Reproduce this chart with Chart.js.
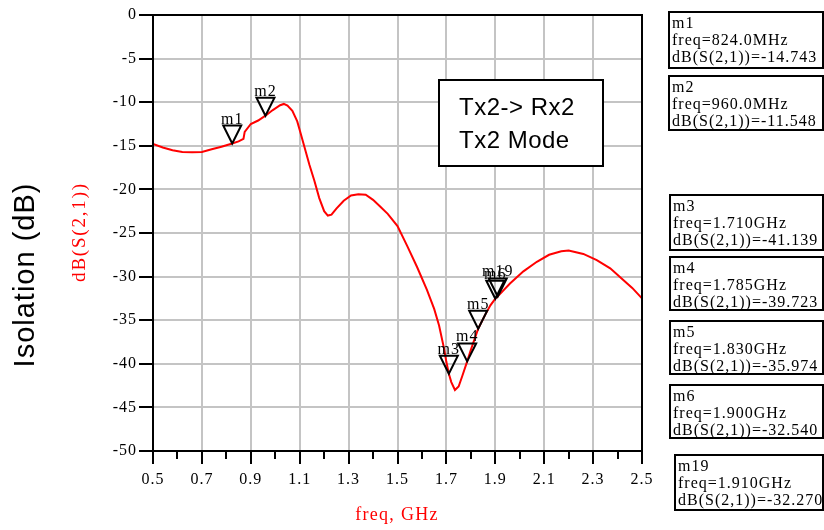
<!DOCTYPE html>
<html>
<head>
<meta charset="utf-8">
<script src="https://cdn.jsdelivr.net/npm/chart.js@4.4.1/dist/chart.umd.min.js"></script>
<style>
	html, body { margin: 0; padding: 0; background: #fff; }
	#graficoIsolacao { display: block; }
</style>
</head>
<body>
<canvas id="graficoIsolacao" width="824" height="530"></canvas>
<script>
// S(2,1) Tx2 -> Rx2, em dB, por frequencia (GHz)
var freqGHz = [0.50, 0.54, 0.58, 0.62, 0.66, 0.70, 0.74, 0.78, 0.824, 0.85, 0.87, 0.875, 0.90, 0.93, 0.96, 0.99,
	1.02, 1.035, 1.05, 1.07, 1.09, 1.10, 1.12, 1.14, 1.16, 1.18, 1.20, 1.215, 1.23, 1.25, 1.28, 1.31, 1.34, 1.37,
	1.40, 1.43, 1.46, 1.50, 1.54, 1.58, 1.62, 1.65, 1.67, 1.69, 1.70, 1.71, 1.72, 1.735, 1.75, 1.765, 1.785, 1.80,
	1.83, 1.86, 1.88, 1.90, 1.91, 1.96, 2.015, 2.07, 2.12, 2.17, 2.20, 2.26, 2.315, 2.37, 2.42, 2.46, 2.50];
var dbS21 = [-14.8, -15.2, -15.5, -15.7, -15.75, -15.7, -15.4, -15.1, -14.743, -14.5, -14.2, -13.4, -12.5, -12.1, -11.548, -10.9,
	-10.35, -10.2, -10.4, -11.0, -12.2, -13.2, -15.2, -17.2, -19.0, -21.0, -22.5, -23.0, -22.9, -22.2, -21.3, -20.7, -20.55, -20.6,
	-21.2, -22.0, -22.8, -24.2, -26.5, -28.9, -31.5, -33.7, -35.6, -38.2, -39.8, -41.139, -42.1, -43.0, -42.6, -41.4, -39.723, -38.4,
	-35.974, -34.3, -33.3, -32.54, -32.27, -30.8, -29.4, -28.3, -27.5, -27.1, -27.0, -27.4, -28.1, -29.05, -30.3, -31.3, -32.5];

var marcadores = ['m1', 'm2', 'm3', 'm4', 'm5', 'm6', 'm19'];
var marcadorFreq = [0.824, 0.960, 1.710, 1.785, 1.830, 1.900, 1.910];
var marcadorDb = [-14.743, -11.548, -41.139, -39.723, -35.974, -32.540, -32.270];

var ticksFreq = [0.5, 0.7, 0.9, 1.1, 1.3, 1.5, 1.7, 1.9, 2.1, 2.3, 2.5];
var ticksFreqMenores = [0.6, 0.8, 1.0, 1.2, 1.4, 1.6, 1.8, 2.0, 2.2, 2.4];
var ticksDb = [0, -5, -10, -15, -20, -25, -30, -35, -40, -45, -50];

var tituloCaixa = ['Tx2-> Rx2', 'Tx2 Mode'];

var Isolacao = Isolacao || {};

Isolacao.Grafico = (function() {

	var SERIF = "'Liberation Serif', 'Times New Roman', serif";
	var SANS = "'Liberation Sans', Arial, sans-serif";

	// caixas de leitura dos marcadores, a direita do grafico
	var caixas = [
		[669, 12, 154, 56], [669, 76, 154, 54], [670, 195, 153, 55], [670, 257, 153, 53],
		[670, 321, 153, 53], [670, 385, 153, 53], [675, 455, 148, 55]
	];

	function Grafico() {
		this.ctx = document.getElementById('graficoIsolacao').getContext('2d');
	}

	Grafico.prototype.iniciar = function() {
		var pontos = freqGHz.map(function(f, i) {
			return { x: f, y: dbS21[i] };
		});

		new Chart(this.ctx, {
			type: 'line',
			data: {
				datasets: [{
					label: 'dB(S(2,1))',
					data: pontos,
					borderColor: '#ff0000',
					borderWidth: 2,
					pointRadius: 0,
					tension: 0,
					fill: false
				}]
			},
			options: {
				responsive: false,
				animation: false,
				layout: { padding: { left: 0, top: 15, right: 182, bottom: 0 } },
				plugins: { legend: { display: false }, tooltip: { enabled: false } },
				scales: {
					x: {
						type: 'linear',
						min: 0.5,
						max: 2.5,
						afterBuildTicks: function(eixo) {
							eixo.ticks = ticksFreq.map(function(v) { return { value: v }; });
						},
						afterFit: function(eixo) { eixo.height = 79; },
						border: { display: false },
						grid: { color: '#c4c4c4', lineWidth: 2, tickColor: '#000', tickWidth: 2, tickLength: 13 },
						ticks: {
							color: '#000',
							font: { family: SERIF, size: 16 },
							padding: 6,
							maxRotation: 0,
							autoSkip: false,
							callback: function(v) { return v.toFixed(1); }
						}
					},
					y: {
						min: -50,
						max: 0,
						afterBuildTicks: function(eixo) {
							eixo.ticks = ticksDb.map(function(v) { return { value: v }; });
						},
						afterFit: function(eixo) { eixo.width = 153; },
						border: { display: false },
						grid: { color: '#c4c4c4', lineWidth: 2, tickColor: '#000', tickWidth: 2, tickLength: 14 },
						ticks: {
							color: '#000',
							font: { family: SERIF, size: 16 },
							padding: 2,
							autoSkip: false
						}
					}
				}
			},
			plugins: [{
				id: 'extrasIsolacao',
				beforeDraw: function(chart) {
					chart.ctx.letterSpacing = '1px';
				},
				afterDraw: desenharExtras
			}]
		});
	};

	function formatarFreq(f) {
		return f < 1 ? 'freq=' + (f * 1000).toFixed(1) + 'MHz' : 'freq=' + f.toFixed(3) + 'GHz';
	}

	function desenharExtras(chart) {
		var ctx = chart.ctx;
		var area = chart.chartArea;
		var eixoX = chart.scales.x;
		var eixoY = chart.scales.y;

		ctx.save();

		// moldura da area de plotagem
		ctx.strokeStyle = '#000';
		ctx.lineWidth = 2;
		ctx.strokeRect(area.left, area.top, area.right - area.left, area.bottom - area.top);

		// ticks menores do eixo x
		ctx.beginPath();
		ticksFreqMenores.forEach(function(v) {
			var px = Math.round(eixoX.getPixelForValue(v));
			ctx.moveTo(px, area.bottom);
			ctx.lineTo(px, area.bottom + 8);
		});
		ctx.stroke();

		// marcadores sobre a curva
		ctx.letterSpacing = '1px';
		ctx.font = '16px ' + SERIF;
		ctx.textAlign = 'center';
		ctx.textBaseline = 'alphabetic';
		ctx.fillStyle = '#000';
		marcadores.forEach(function(nome, i) {
			var px = eixoX.getPixelForValue(marcadorFreq[i]);
			var py = eixoY.getPixelForValue(marcadorDb[i]);
			ctx.beginPath();
			ctx.moveTo(px - 9, py - 18);
			ctx.lineTo(px + 9, py - 18);
			ctx.lineTo(px, py);
			ctx.closePath();
			ctx.stroke();
			ctx.fillText(nome, px, py - 20);
		});

		// caixa de titulo
		ctx.fillStyle = '#fff';
		ctx.fillRect(439, 80, 164, 86);
		ctx.strokeRect(439, 80, 164, 86);
		ctx.fillStyle = '#000';
		ctx.font = '24px ' + SANS;
		ctx.letterSpacing = '0.5px';
		ctx.textAlign = 'left';
		ctx.textBaseline = 'middle';
		ctx.fillText(tituloCaixa[0], 459, 108);
		ctx.fillText(tituloCaixa[1], 459, 141);

		// leituras dos marcadores
		ctx.font = '16px ' + SERIF;
		ctx.letterSpacing = '1px';
		ctx.textBaseline = 'alphabetic';
		marcadores.forEach(function(nome, i) {
			var c = caixas[i];
			ctx.strokeRect(c[0], c[1], c[2], c[3]);
			ctx.fillText(nome, c[0] + 3, c[1] + 16);
			ctx.fillText(formatarFreq(marcadorFreq[i]), c[0] + 3, c[1] + 33);
			ctx.fillText('dB(S(2,1))=' + marcadorDb[i].toFixed(3), c[0] + 3, c[1] + 50);
		});

		// titulos dos eixos
		ctx.textAlign = 'center';
		ctx.textBaseline = 'middle';
		ctx.fillStyle = '#ff0000';
		ctx.font = '18px ' + SERIF;
		ctx.letterSpacing = '1.3px';
		ctx.fillText('freq, GHz', 397, 515);

		ctx.save();
		ctx.translate(80, 232);
		ctx.rotate(-Math.PI / 2);
		ctx.font = '19px ' + SERIF;
		ctx.letterSpacing = '1.8px';
		ctx.fillText('dB(S(2,1))', 0, 0);
		ctx.restore();

		ctx.save();
		ctx.translate(26, 275);
		ctx.rotate(-Math.PI / 2);
		ctx.fillStyle = '#000';
		ctx.font = '29px ' + SANS;
		ctx.letterSpacing = '1px';
		ctx.fillText('Isolation (dB)', 0, 0);
		ctx.restore();

		ctx.restore();
	}

	return Grafico;

})();

window.addEventListener('load', function() {
	var grafico = new Isolacao.Grafico();
	grafico.iniciar();
});
</script>
</body>
</html>
